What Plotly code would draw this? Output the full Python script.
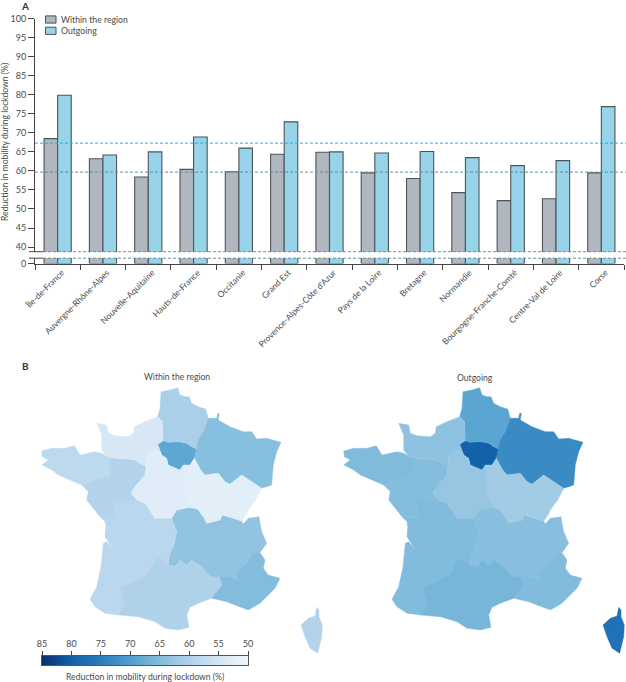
import numpy as np
import plotly.graph_objects as go
from plotly.colors import sample_colorscale

regions = ["Île-de-France", "Auvergne-Rhône-Alpes", "Nouvelle-Aquitaine", "Hauts-de-France", "Occitanie",
           "Grand Est", "Provence-Alpes-Côte d'Azur", "Pays de la Loire", "Bretagne", "Normandie",
           "Bourgogne-Franche-Comté", "Centre-Val de Loire", "Corse"]
within = [68.5, 63.2, 58.4, 60.4, 59.8, 64.4, 64.9, 59.5, 58.0, 54.3, 52.2, 52.7, 59.5]
outgoing = [79.9, 64.2, 65.0, 68.9, 66.0, 72.9, 65.0, 64.7, 65.1, 63.5, 61.4, 62.7, 76.9]
ref_outgoing = 67.3
ref_within = 59.7
y_ticks = [40, 45, 50, 55, 60, 65, 70, 75, 80, 85, 90, 95, 100]
scale_ticks = [85, 80, 75, 70, 65, 60, 55, 50]

# Region outlines, in map units
ile = [(157.7,444.3),(163.3,440.7),(168.3,442.3),(178.3,441.7),(186.7,443.3),(191.7,446.7),(196.7,449),(194.3,458.3),(190,465),(183.3,465),(180,470),(175,468.3),(168.3,465),(166.7,458.3),(161.7,455)]
hauts = [(157.7,416.7),(160,408.3),(161,391.7),(170,390),(177.7,387.7),(180,395),(185,396.7),(189,396.7),(191.7,403.3),(198.3,406.7),(205.7,409),(208.3,418.3),(204.3,430),(198.3,440),(196.7,449),(191.7,446.7),(186.7,443.3),(178.3,441.7),(168.3,442.3),(163.3,440.7),(162.7,431.7),(162.7,421.7)]
grand_est = [(208.3,418.3),(216.7,418.3),(217.7,413.3),(219.3,413.3),(218.3,420),(230,426.7),(243.3,431.7),(251.7,431.7),(256.7,439),(266.7,438.3),(281,442.3),(276.7,451.7),(273.3,465),(271.7,485),(266.7,486.7),(261.7,488.3),(241.7,475),(230,484.3),(225,481.7),(218.3,473.3),(205,475),(200.7,470),(194.3,458.3),(196.7,449),(198.3,440),(204.3,430)]
normandie = [(96.7,423.3),(106.7,425),(108.3,433.3),(115,435.7),(128.3,436.7),(133.3,433.3),(134.3,426.7),(145,421.7),(157.7,416.7),(162.7,421.7),(162.7,431.7),(163.3,440.7),(157.7,444.3),(161.7,455),(160,451.7),(155,451),(146.7,456),(146,466.7),(135,460),(126.7,459),(110,457.7),(105,454.3),(101.7,450),(101.7,435)]
bretagne = [(41.7,451),(51.7,448.3),(65,448.3),(74.3,445.7),(80,455),(95,451.7),(101.7,453.3),(110,457.7),(110,475),(98.3,478.3),(81.7,485),(70,480),(58.3,475),(51.7,470),(41.7,465),(48.3,460),(42.3,456.7)]
loire = [(110,457.7),(126.7,459),(135,460),(146,466.7),(145,475),(135,486.7),(131,493.3),(136.7,500),(113.3,500),(116.7,518.3),(100,516.7),(93.3,508.3),(86.7,500),(88.3,491.7),(81.7,485),(98.3,478.3),(110,475)]
centre = [(146,466.7),(146.7,456),(155,451),(160,451.7),(161.7,455),(166.7,458.3),(168.3,465),(175,468.3),(180,470),(183.3,465),(185,481.7),(184,491.7),(190,503.3),(195,508.3),(188.3,507.7),(176.7,510),(171.7,518.3),(155,518.3),(151.7,513.3),(145,503.3),(136.7,500),(131,493.3),(135,486.7),(145,475)]
bourgogne = [(183.3,465),(190,465),(194.3,458.3),(200.7,470),(205,475),(218.3,473.3),(225,481.7),(230,484.3),(241.7,475),(261.7,488.3),(255.7,500),(248.3,510),(246.7,514),(241.7,521),(233.3,518.3),(222.3,515),(220,520),(206.7,523.3),(204.3,518.3),(198.3,510),(195,508.3),(190,503.3),(184,491.7),(185,481.7)]
aquitaine = [(100,516.7),(116.7,518.3),(113.3,500),(136.7,500),(145,503.3),(151.7,513.3),(155,518.3),(171.7,518.3),(176.7,531.7),(174.3,543.3),(169,556.7),(168.3,565),(156.7,556.7),(146.7,575),(120,588.3),(125,603.3),(118.3,615),(105,613.3),(95,606.7),(90,599.3),(96.7,586.7),(101,566.7),(103.3,543.3),(106.7,541.7),(113.3,550),(105,536.7),(105.7,526.7),(105,521.7)]
occitanie = [(120,588.3),(146.7,575),(156.7,556.7),(168.3,565),(175,566.7),(180,560),(186.7,565),(191.7,560),(201.7,566.7),(210,576.7),(220,577.3),(222.3,585),(211.7,598.3),(198.3,603.3),(190,607.3),(186.7,615),(189,627.3),(178.3,630),(165,628.3),(155,621.7),(138.3,616.7),(118.3,615),(125,603.3)]
ara = [(171.7,518.3),(176.7,510),(188.3,507.7),(195,508.3),(198.3,510),(204.3,518.3),(206.7,523.3),(220,520),(222.3,515),(233.3,518.3),(241.7,521),(243.3,524),(248.3,518.3),(259,516.7),(261.7,531.7),(266.7,543.3),(260,552.7),(251.7,553.3),(248.3,561.7),(235,572.7),(238.3,580),(228.3,576.7),(220,577.3),(210,576.7),(201.7,566.7),(191.7,560),(186.7,565),(180,560),(175,566.7),(168.3,565),(169,556.7),(174.3,543.3),(176.7,531.7)]
paca = [(220,577.3),(228.3,576.7),(238.3,580),(235,572.7),(248.3,561.7),(251.7,553.3),(260,552.7),(265,560),(263.3,568.3),(268.3,575),(280,578.3),(275,588.3),(260,603.3),(248.3,610),(235,605),(226.7,601.7),(211.7,598.3),(222.3,585)]
corse = [(316.7,607.3),(319,610),(319,616.7),(322.3,625),(321.7,636.7),(317.7,653.3),(310,648.3),(305,636.7),(301,625),(308.3,618.3),(315,616)]
outlines = [ile, ara, aquitaine, hauts, occitanie, grand_est, paca, loire, bretagne, normandie, bourgogne, centre, corse]

W, H = 626, 682
TXT = "#4a4a4a"
FONT = "Lato"
blues = [[0, "#eff6fc"], [1/7, "#d3e5f4"], [2/7, "#aed1ea"], [3/7, "#82bcdc"], [4/7, "#509ecf"], [5/7, "#2a7cbc"], [6/7, "#1260ab"], [1, "#08306b"]]

def colour(v):
    return sample_colorscale(blues, (v - 50) / 35)[0]

def dx(a, b): return [a / W, b / W]
def dy(top, bottom): return [(H - bottom) / H, (H - top) / H]

fig = go.Figure()
for name, vals, col in [("Within the region", within, "#b0b7bf"), ("Outgoing", outgoing, "#97d4e9")]:
    for ya in ["y", "y2"]:
        fig.add_trace(go.Bar(x=regions, y=vals, name=name, marker=dict(color=col, line=dict(color="#4d5358", width=1.1)),
                             offsetgroup=name, xaxis="x" if ya == "y" else "x2", yaxis=ya, showlegend=False))

for vals, xa, ya in [(within, "x3", "y3"), (outgoing, "x4", "y4")]:
    for outline, v in zip(outlines, vals):
        xs = [p[0] for p in outline] + [outline[0][0]]
        ys = [p[1] for p in outline] + [outline[0][1]]
        c = colour(v)
        fig.add_trace(go.Scatter(x=xs, y=ys, mode="lines", fill="toself", fillcolor=c, line=dict(color=c, width=0.4),
                                 xaxis=xa, yaxis=ya, showlegend=False, hoverinfo="skip"))

grad = np.arange(50, 85.25, 0.25)
fig.add_trace(go.Heatmap(x=grad, y=[0, 1], z=[grad, grad], colorscale=blues, zmin=50, zmax=85, showscale=False,
                         xaxis="x5", yaxis="y5", hoverinfo="skip"))

tickf = dict(family=FONT, size=9, color=TXT)
map_yaxis = dict(visible=False, range=[682, 350], fixedrange=True, automargin=False)
fig.update_layout(
    template="none",
    width=W, height=H, margin=dict(l=0, r=0, t=0, b=0), paper_bgcolor="white", plot_bgcolor="rgba(0,0,0,0)",
    barmode="group", bargap=0.4, bargroupgap=0, showlegend=False, font=dict(family=FONT, color=TXT, size=9),
    xaxis=dict(domain=dx(35, 624), range=[-0.5, 12.5], showticklabels=False, ticks="", showline=False, anchor="y", showgrid=False, zeroline=False,
               categoryorder="array", categoryarray=regions, automargin=False),
    yaxis=dict(domain=dy(18.7, 252), range=[38.7, 100], tickvals=y_ticks, ticks="outside", ticklen=6, tickcolor="#444",
               tickfont=tickf, showline=True, linecolor="#444", linewidth=1, showgrid=False, zeroline=False, anchor="x", automargin=False),
    xaxis2=dict(domain=dx(35, 624), range=[-0.5, 12.5], tickson="boundaries", ticks="outside", ticklen=5, tickcolor="#444", showgrid=False, zeroline=False,
                tickangle=-45, ticklabelshift=4, tickfont=dict(family=FONT, size=8.5, color=TXT), showline=True, linecolor="#444", linewidth=1,
                anchor="y2", categoryorder="array", categoryarray=regions, automargin=False),
    yaxis2=dict(domain=dy(258, 263.5), range=[0, 1.45], tickvals=[0], ticks="outside", ticklen=6, tickcolor="#444",
                tickfont=tickf, showline=True, linecolor="#444", linewidth=1, showgrid=False, zeroline=False, anchor="x2", automargin=False),
    xaxis3=dict(domain=dx(0, 324), anchor="y3", visible=False, range=[0, 324], fixedrange=True, automargin=False),
    yaxis3=dict(domain=dy(350, 682), anchor="x3", **map_yaxis),
    xaxis4=dict(domain=dx(302, 626), anchor="y4", visible=False, range=[0, 324], fixedrange=True, automargin=False),
    yaxis4=dict(domain=dy(350, 682), anchor="x4", **map_yaxis),
    xaxis5=dict(domain=dx(42, 248), range=[85, 50], anchor="y5", side="top", tickvals=scale_ticks, ticks="outside", ticklen=4, automargin=False,
                tickcolor="#444", tickfont=tickf, showline=True, mirror=True, linecolor="#555", linewidth=1, showgrid=False, zeroline=False),
    yaxis5=dict(domain=dy(656, 665), range=[0, 1], anchor="x5", showticklabels=False, ticks="", showline=True, mirror=True, automargin=False,
                linecolor="#555", linewidth=1, showgrid=False, zeroline=False),
)

def line(x0, x1, y, col, dash="dash", yref="paper", w=1):
    fig.add_shape(type="line", xref="paper", x0=x0 / W, x1=x1 / W, yref=yref, y0=y, y1=y, line=dict(color=col, dash=dash, width=w), layer="above")

line(35, 626, ref_outgoing, "#14b4de", "3px,2px", "y")
line(35, 626, ref_within, "#5f8c9c", "3px,2px", "y")
for py in (251.7, 258.2):
    line(43, 626, (H - py) / H, "#6f8f9a", "3px,2px")
    line(29, 43, (H - py) / H, "#444", "solid")

for i, (lab, col) in enumerate([("Within the region", "#b0b7bf"), ("Outgoing", "#97d4e9")]):
    yc = 19.5 + i * 11.3
    fig.add_shape(type="rect", xref="paper", yref="paper", x0=45.5 / W, x1=56 / W, y0=(H - yc - 3.6) / H, y1=(H - yc + 3.6) / H,
                  fillcolor=col, line=dict(color="#4d5358", width=1))
    fig.add_annotation(text=lab, xref="paper", yref="paper", x=59 / W, y=(H - yc) / H, xanchor="left", yanchor="middle",
                       showarrow=False, font=dict(family=FONT, size=8.7, color=TXT))

def note(text, x, y, size=8.6, bold=False, anchor="center", angle=0):
    fig.add_annotation(text=f"<b>{text}</b>" if bold else text, xref="paper", yref="paper", x=x / W, y=(H - y) / H,
                       xanchor=anchor, yanchor="middle", showarrow=False, textangle=angle,
                       font=dict(family=FONT, size=size, color="#333" if bold else TXT))

note("A", 25, 6.5, 10, True)
note("B", 25, 366, 10, True)
note("Within the region", 176.5, 377.5)
note("Outgoing", 475, 378)
note("Reduction in mobility during lockdown (%)", 145, 676.5)
note("Reduction in mobility during lockdown (%)", 5, 142, 8.6, angle=-90)

fig.write_html("out.html", config=dict(displayModeBar=False), post_script="document.body.style.margin='0';")
